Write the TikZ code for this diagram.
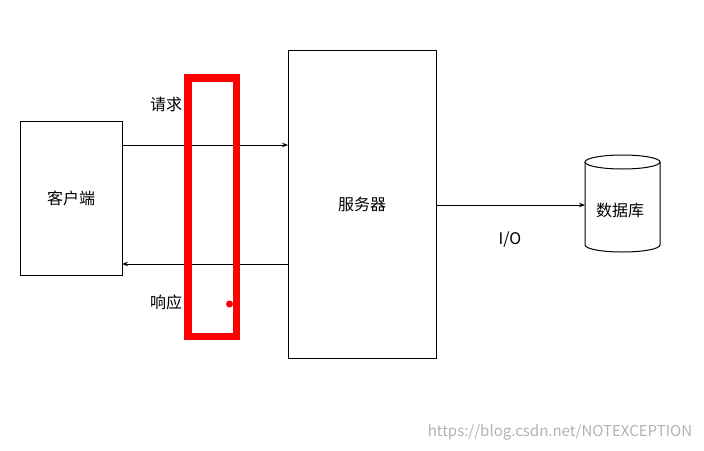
\documentclass[tikz,border=0pt]{standalone}
\usepackage{fontspec}
\setmainfont{Noto Sans CJK SC}
\usetikzlibrary{arrows.meta}
\begin{document}
\begin{tikzpicture}[x=1pt,y=-1pt,
  box/.style={draw,line width=1pt},
  lbl/.style={font=\fontsize{16}{18}\selectfont},
  conn/.style={-{Stealth[length=6pt]},line width=0.9pt}]
\useasboundingbox (0,0) rectangle (704,450);
\node[box,minimum width=102pt,minimum height=154pt,lbl] (client) at (71,198) {客户端};
\node[box,minimum width=148pt,minimum height=308pt,lbl] (server) at (362,204) {服务器};
\coordinate (cq) at (122,145); \coordinate (sq) at (288,145);
\coordinate (cr) at (122,264); \coordinate (sr) at (288,264);
\draw[conn] (cq) -- (sq);
\draw[conn] (sr) -- (cr);
\node[lbl] (req) at (166,104) {请求};
\node[lbl] (resp) at (166,302) {响应};
% database cylinder
\draw[line width=1pt,fill=white] (585,162) -- (585,245) arc[start angle=180,end angle=0,x radius=37.5,y radius=7] -- (660,162);
\draw[line width=1pt] (622.5,162) ellipse[x radius=37.5,y radius=7];
\node[lbl] (dbl) at (620,210) {数据库};
\coordinate (dbw) at (585,205);
\draw[conn] (server.east |- dbw) -- (dbw);
\node[lbl] (io) at (510,240) {I/O};
\draw[red,line width=7.5pt] (188,78) rectangle (236.5,336.5);
\fill[red] (229.5,304) circle (3.5);
\node[gray!60,font=\fontsize{15}{17}\selectfont] (wm) at (560,432) {https://blog.csdn.net/NOTEXCEPTION};
\end{tikzpicture}
\end{document}
